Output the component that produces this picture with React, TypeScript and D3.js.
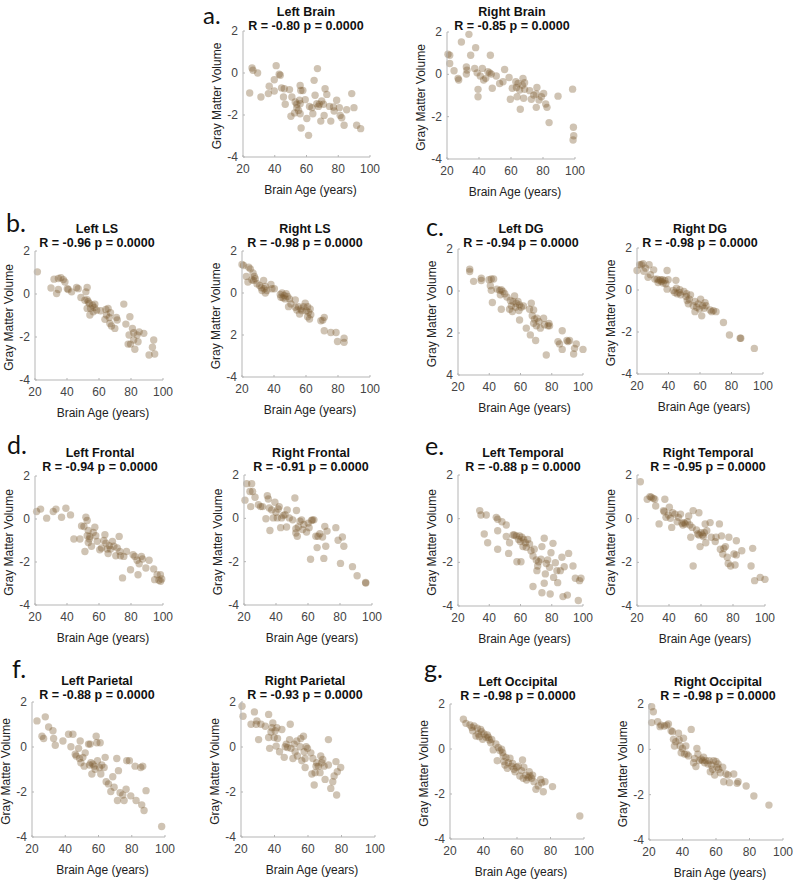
import React from 'react';
import * as d3 from 'd3';

// [brain age, gray matter volume]
const leftBrain = [
  [24.2, -0.95], [25.7, 0.24], [26.3, 0.13], [29.2, 0.0], [31.3, -1.14], [36, -0.98], [36.5, -0.63],
  [39.7, -0.32], [39.7, -0.86], [40.9, 0.35], [42.8, -0.06], [43.5, -0.11], [44.3, -0.71], [45.5, -1.14],
  [46, -0.75], [46.6, -1.49], [49.3, -0.79], [50.2, -2.06], [50.8, -1.14], [52.5, -1.9], [52.9, -1.38],
  [53.9, -1.65], [55, -1.78], [55.6, -1.3], [56, -0.59], [56.4, -0.83], [56.6, -2.62], [56, -1.94],
  [57.7, -0.83], [59.2, -1.27], [60.2, -2.17], [61.3, -2.97], [61.9, -1.59], [63.4, -1.65], [64, -1.94],
  [64.8, -0.35], [65.4, -1.06], [66.9, 0.21], [67.5, -1.59], [68.1, -1.49], [69, -2.29], [69.6, -1.33],
  [70.7, -1.49], [71.1, -2.02], [71.7, -0.75], [72.8, -1.02], [74.5, -1.59], [75.3, -2.29], [77, -1.62],
  [77.4, -1.81], [79, -1.3], [80.7, -1.65], [81.2, -2.02], [82.2, -2.13], [83.7, -2.49], [85.3, -1.75],
  [88.5, -0.98], [89.9, -1.65], [91.6, -2.49], [94.1, -2.65], [56, -1.46], [53.9, -1.49], [66.5, -1.46],
];

const rightBrain = [
  [20.6, 0.95], [21.7, 0.9], [21.7, 0.51], [24.4, 0.17], [26.9, -0.19], [27.3, -0.27], [29, 1.53],
  [32.1, 0.35], [32.5, 0.2], [32.1, 0.01], [33.7, 1.89], [34.8, 0.9], [37.9, 1.26], [37.3, 0.28],
  [38.8, 0.07], [39.4, -0.71], [39.4, -1.06], [40.8, -0.08], [42.1, 0.28], [42.9, -0.27], [44.2, -0.19],
  [45.6, 0.12], [47.1, 0.9], [46.7, 0.07], [48.3, -0.66], [47.7, 0.01], [50.8, -0.08], [52.9, -0.43],
  [55, -0.35], [56, 0.23], [58.8, -0.15], [59.6, -1.18], [60.8, -0.66], [63, -0.35], [63.4, -0.62],
  [63.8, -1.06], [64.4, -0.43], [65.4, -0.74], [65.8, -1.65], [67.1, -0.51], [67.5, -0.19], [67.9, -1.13],
  [68.5, -0.4], [68.5, -0.71], [71.7, -0.77], [72.7, -1.18], [74.2, -0.98], [75.8, -1.56], [76.2, -0.62],
  [75.8, -0.93], [77.5, -1.21], [79, -1.06], [80.4, -0.9], [81.7, -1.4], [82.5, -1.56], [83.8, -2.28],
  [89.4, -1.03], [98.5, -0.7], [99, -2.5], [99.2, -2.9], [98.8, -3.1],
];

const leftLS = [
  [21.5, 1.03], [30, 0.28], [31.9, 0.69], [33.5, 0.02], [34.6, 0.21], [34.6, 0.72], [36.2, 0.76],
  [37.7, 0.67], [38.7, 0.56], [40.2, 0.25], [40.8, 0.21], [42.9, 0.1], [46, 0.3], [47, 0.25],
  [48.7, -0.16], [51.2, -0.29], [51.8, 0.1], [52.6, 0.3], [52.6, -0.26], [53.3, -0.36], [52.6, -0.67],
  [54, -0.44], [54.3, -0.98], [54.7, -0.67], [56, -0.52], [56.4, -0.83], [57, -0.63], [57.4, -0.47],
  [58.5, -0.75], [61, -0.78], [63.7, -1.18], [64.3, -0.72], [64.7, -0.98], [65.7, -0.67], [66.4, -1.09],
  [66.8, -1.37], [67.2, -0.87], [67.8, -1.49], [69.9, -1.6], [70.9, -1.09], [71.4, -1.21], [75.5, -0.47],
  [76.8, -1.4], [78.2, -2.33], [78.8, -1.91], [79.3, -1.06], [79.7, -2.33], [80.9, -1.6], [81.7, -2.14],
  [81.7, -1.8], [82.4, -2.57], [83.8, -1.91], [84.4, -2.22], [85.1, -1.76], [88, -1.83], [91.3, -2.84],
  [93.4, -2.48], [94.2, -2.14], [94.8, -2.79],
];

const rightLS = [
  [20, 1.36], [21, 1.31], [22.7, 0.79], [23.7, 0.52], [24.2, 1.23], [25.2, 1.15], [26.2, 0.63],
  [26.9, 0.95], [27.3, 0.6], [27.7, 0.79], [28.3, 0.68], [29.4, 0.44], [31, 0.36], [32.1, 0.25],
  [32.5, 0.12], [33.5, 0.6], [33.9, 0.2], [34.6, 0.0], [34.6, 0.31], [35.6, 0.12], [38.1, 0.41],
  [38.7, 0.2], [40.2, 0.2], [43.9, -0.07], [44.3, -0.2], [45, 0.0], [45.6, -0.23], [46.4, -0.12],
  [47, -0.28], [47.6, -0.03], [48.5, -0.17], [49.1, -0.65], [49.7, -0.28], [50.6, -0.52], [53.3, -0.33],
  [53.3, -0.68], [54.3, -0.81], [55.3, -0.65], [56, -1.0], [56.8, -0.76], [57.4, -0.84], [58.5, -0.65],
  [59.5, -0.49], [60.1, -0.84], [61, -0.65], [61, -1.13], [61.6, -0.92], [62.2, -1.24], [62.6, -0.76],
  [63, -1.03], [69.3, -1.32], [70.5, -1.29], [71.4, -1.16], [71.4, -1.8], [75.5, -1.88], [78.8, -1.88],
  [79.7, -2.31], [83.8, -2.15], [83.8, -2.35],
];

const leftDG = [
  [27.5, 1.04], [27.5, 0.93], [30, 0.46], [34.9, 0.61], [34.9, 0.5], [39.8, 0.54], [40.7, 0.25],
  [41.3, 0.03], [41.3, 0.57], [42, -0.55], [42.8, 0.57], [44.9, 0.09], [46.7, 0.03], [47.1, -0.18],
  [47.7, 0.06], [47.7, -0.87], [48.8, -0.02], [49.9, -0.13], [51.3, -0.29], [53, -0.87], [53.5, -0.45],
  [54.1, -0.71], [54.8, -0.98], [55.2, -0.5], [56.2, -0.23], [56.9, -0.77], [57.3, -0.58], [58.4, -0.5],
  [59, -0.93], [59.4, -0.66], [59.4, -1.38], [60.5, -0.77], [61.9, -0.71], [63.7, -1.77], [65.8, -0.87],
  [66.3, -2.09], [66.9, -0.58], [67.5, -1.18], [68.4, -0.9], [68.4, -1.54], [69, -1.34], [69.7, -2.36],
  [70.1, -1.66], [70.5, -1.3], [71.8, -1.46], [72.7, -1.77], [74.8, -1.3], [75.4, -1.61], [76.5, -3.05],
  [77.6, -1.66], [78.2, -1.54], [78.6, -1.66], [84, -2.41], [85, -2.52], [86.7, -1.89], [86.7, -2.78],
  [89.7, -2.36], [90.4, -2.41], [91.4, -2.36], [94, -3.0], [94.6, -2.73], [95.7, -2.52], [100, -2.78],
];

const rightDG = [
  [20, 0.93], [21.7, 1.2], [22.8, 1.2], [23.8, 1.25], [24.3, 0.89], [25.5, 1.04], [27, 0.61],
  [27.7, 1.2], [28.5, 0.73], [30.6, 0.96], [31.3, 0.52], [32.8, 0.52], [33.4, 0.36], [34, 0.46],
  [34.9, 0.49], [35.5, 0.41], [36.2, 0.49], [36.6, 0.33], [37.7, 0.46], [38.3, 0.3], [39.1, 0.93],
  [39.1, 0.04], [39.8, 0.49], [43, -0.02], [44, -0.12], [44.7, 0.46], [45.1, 0.09], [45.5, -0.18],
  [46.8, -0.12], [47.2, 0.01], [47.7, -0.23], [49.8, -0.07], [51.1, -0.31], [51.5, -0.18], [51.9, -0.5],
  [52.6, -0.66], [53.2, -0.44], [54, -0.23], [55.7, -0.75], [56.8, -1.03], [56.8, -0.55], [57.9, -0.82],
  [58.9, -0.66], [59.6, -0.91], [60.4, -0.44], [61.1, -1.23], [61.7, -0.75], [62.6, -0.87], [63.2, -0.6],
  [63.8, -0.75], [66.4, -0.95], [67.4, -1.03], [68.5, -0.98], [70.2, -1.03], [74.9, -1.55], [78.7, -2.14],
  [85.5, -2.3], [85.9, -2.3], [94.5, -2.78],
];

const leftFrontal = [
  [21, 0.35], [23.5, 0.46], [27.3, 0.04], [31.4, 0.35], [33.1, 0.46], [36.6, 0.08], [39.3, 0.5],
  [42.2, 0.19], [44.3, -0.93], [48.1, -0.93], [49.1, -0.32], [50.6, -0.35], [51.2, -1.51], [51.8, 0.08],
  [52.6, -0.07], [52.6, -0.78], [53.3, -1.09], [53.3, -0.53], [54, -0.93], [54.3, -0.81], [55.3, -1.27],
  [56.4, -0.63], [57.4, -0.38], [58, -0.78], [58.9, -1.04], [60.5, -1.43], [61.6, -1.35], [63, -1.0],
  [63.7, -0.73], [64.3, -1.12], [65.1, -1.4], [65.7, -1.61], [66.4, -1.24], [67.2, -1.4], [68.4, -1.04],
  [69.3, -1.27], [70.5, -1.71], [71.4, -1.35], [72.6, -0.81], [73, -1.51], [73.4, -1.71], [74.7, -2.74],
  [75.5, -1.74], [77.2, -1.51], [79.7, -2.36], [81.3, -1.66], [82.4, -1.74], [83.8, -1.92], [84.4, -2.59],
  [85.1, -2.08], [86.5, -1.74], [87.2, -1.86], [89.3, -2.28], [91.3, -1.92], [94.2, -2.32], [94.8, -2.82],
  [96.3, -2.59], [97.5, -2.85], [98.5, -2.9], [99.2, -2.79], [98.4, -2.59],
];

const rightFrontal = [
  [20.6, 0.84], [21.7, 1.6], [23.7, 1.24], [24.8, 1.6], [25.4, 1.24], [24.2, 0.54], [26.9, 0.97],
  [29, 0.63], [30.4, 0.54], [31.6, 0.54], [33.7, -0.02], [34.6, 1.04], [35.2, 0.89], [35.8, 0.48],
  [36.2, -0.56], [37.3, 0.39], [38.3, 0.02], [39.3, 0.74], [40, 0.28], [40.8, 0.02], [41.4, 0.43],
  [42, 0.54], [42.9, -0.43], [43.5, 0.02], [44.5, 0.13], [45.6, 0.17], [46.6, -0.4], [47, 0.39],
  [48.3, 0.02], [50.4, -0.07], [51.8, 0.94], [52.4, -0.48], [52.8, 0.36], [52.4, -0.68], [53.3, -0.83],
  [53.9, -0.4], [55, -0.13], [56, -0.07], [56.6, -0.52], [57.4, -0.28], [59.1, -0.63], [60.1, -0.22],
  [60.7, -0.43], [61.6, -1.89], [62.2, -0.1], [62.8, -0.07], [63.7, -0.07], [64.9, -0.83], [65.7, -1.35],
  [66.3, -0.83], [67.4, -0.71], [69.1, -0.86], [69.9, -1.85], [70.5, -0.37], [71.1, -1.29], [71.9, -0.59],
  [77.4, -0.43], [78.8, -1.01], [80.3, -2.08], [81.5, -0.86], [82.4, -1.29], [87.8, -2.23], [90.7, -2.65],
  [96.1, -2.99], [96, -2.96],
];

const leftTemporal = [
  [33.9, 0.37], [34.7, 0.17], [38.1, 0.17], [36.8, -0.7], [39, -1.1], [44.5, 0.06], [45.4, -0.03],
  [45.4, -0.55], [45.4, -1.4], [48.1, -0.14], [50.9, -0.29], [50.9, -0.82], [52.4, -1.59], [53, -1.1],
  [55.2, -0.75], [56, -0.75], [57.3, -0.79], [57.7, -1.97], [58.8, -0.95], [59.4, -0.79], [59.9, -1.05],
  [60.3, -1.97], [60.9, -0.85], [61.6, -1.28], [62, -0.95], [63.1, -1.1], [63.7, -1.31], [64.6, -0.95],
  [65.8, -1.16], [66.7, -1.47], [68, -1.71], [68.8, -1.4], [70.1, -1.89], [70.5, -2.38], [71, -2.17],
  [71.6, -1.97], [73.1, -1.86], [73.7, -1.28], [75.2, -0.9], [75.9, -2.53], [76.5, -2.05], [77.4, -1.89],
  [78.6, -2.23], [79.5, -1.56], [80.8, -1.13], [81.2, -2.69], [82.3, -2.02], [83.3, -2.38], [83.8, -2.93],
  [85.5, -2.38], [86.5, -1.77], [87.2, -3.57], [88, -2.2], [90.8, -1.59], [93.6, -2.17], [95.1, -2.73],
  [97.8, -2.84], [98.7, -2.73], [68, -3.11], [73.7, -3.39], [79, -3.45], [75.2, -2.96], [90, -3.5],
  [97, -3.75],
];

const rightTemporal = [
  [22.1, 1.69], [26.4, 0.89], [28.1, 1.01], [28.9, 0.98], [30.2, 0.93], [31.1, 0.89], [31.7, 0.58],
  [33.8, -0.24], [36.6, 0.37], [37, 0.32], [37.4, 0.89], [38.1, 0.06], [39.6, 0.17], [40.2, 0.52],
  [40.9, 0.02], [41.7, -0.4], [42.3, 0.27], [43.8, 0.21], [45.1, -0.14], [45.9, 0.06], [47.2, 0.21],
  [48.1, -0.21], [48.7, -0.29], [49.4, -0.18], [50.2, -0.24], [51.5, -0.14], [52.3, 0.12], [53, -0.29],
  [53.6, -0.85], [54.5, -0.4], [55.1, 0.37], [55.1, -2.17], [57.2, -0.52], [57.9, -0.7], [58.7, 0.27],
  [58.7, -0.75], [59.4, -1.28], [60, -0.64], [60.9, -0.75], [61.5, -0.82], [62.1, -0.64], [62.6, -0.24],
  [63, -1.1], [63.6, -0.55], [65.7, -0.18], [66.4, -0.85], [68.9, -1.05], [69.4, -0.85], [71.5, -0.24],
  [72.1, -1.4], [72.8, -0.79], [73.6, -1.62], [74.3, -1.36], [75.3, -1.28], [76.4, -1.77], [77, -2.05],
  [77.4, -0.85], [78.5, -2.17], [80.6, -1.62], [81.3, -2.12], [82.1, -1.66], [82.1, -1.01], [85.5, -1.47],
  [91.3, -2.17], [92.3, -1.36], [93.5, -2.84], [97, -2.69], [100, -2.78],
];

const leftParietal = [
  [23, 1.16], [26, 0.48], [27, 0.38], [28, 1.34], [30, 0.89], [32.6, 0.72], [33, 0.38], [34, 0.08],
  [38.6, 0.27], [42, 0.57], [43.4, 0.01], [44.6, 0.57], [46, -0.32], [46.6, -0.4], [48, -0.06],
  [48.6, -0.51], [49, 0.27], [49.4, -0.7], [50.6, -0.46], [51.4, -0.85], [52, -0.26], [54, 0.13],
  [54.6, -0.8], [55, 0.13], [55.4, -0.7], [56, -1.2], [56.6, -0.76], [57.4, -0.85], [58, -0.99],
  [58.6, 0.48], [59, 0.19], [59.4, -0.61], [60.6, -0.91], [61, 0.19], [61.4, -1.2], [62, -0.8],
  [63.4, -0.91], [64, -0.46], [64.6, -1.54], [66, -1.64], [67.4, -1.98], [68.6, -1.32], [69.4, -1.79],
  [71, -0.51], [71.4, -2.38], [72, -1.05], [73, -2.03], [74.6, -2.13], [75.4, -2.38], [76.6, -1.88],
  [77, -0.61], [78.6, -0.61], [79.4, -2.17], [82, -0.85], [82.6, -2.38], [85.4, -0.91], [86, -2.57],
  [86.6, -0.85], [87.4, -2.82], [88.6, -1.94], [98, -3.53],
];

const rightParietal = [
  [20.6, 1.81], [21.2, 1.37], [26, 1.01], [28, 1.56], [29.1, 1.01], [29.5, 1.16], [30.5, 0.33],
  [31.9, 1.01], [34.5, 0.92], [36.5, 1.45], [36.5, 0.42], [37.1, -0.06], [37.9, 0.67], [38.5, 0.86],
  [39, 1.07], [39.8, 0.42], [40.4, 0.72], [41, 0.04], [41.4, 0.86], [41.8, 0.38], [43, -0.21],
  [44.4, 0.78], [45.8, -0.46], [46.4, 0.01], [47, 0.13], [47.8, -0.02], [49, 0.33], [49.4, 1.01],
  [49.8, -0.06], [51, -0.51], [51.7, 0.13], [52.3, -0.21], [53.3, 0.27], [53.7, -0.4], [55.3, 0.01],
  [55.7, 0.38], [56.3, -0.61], [57.3, 0.48], [57.7, -0.21], [58.3, -0.51], [58.3, -0.91], [58.9, 0.01],
  [59.7, -0.06], [61.7, -0.26], [62.3, -1.2], [62.9, -0.51], [63.7, -1.69], [64.2, -1.14], [64.8, -0.85],
  [65.2, -0.7], [66.2, -0.85], [67.2, -1.14], [67.6, -0.4], [68.2, -0.7], [68.8, -0.55], [69.6, -0.85],
  [70.2, -1.44], [72.2, 0.33], [72.2, -0.8], [73.6, -1.84], [74.8, -1.54], [75.6, -1.29], [76.7, -0.65],
  [77.1, -2.13], [77.5, -1.1], [79.5, -0.91],
];

const leftOccipital = [
  [28, 1.32], [29.5, 1.14], [31.9, 1.07], [33, 0.96], [33.5, 0.81], [34.3, 1.02], [35.5, 0.58],
  [36.3, 0.92], [36.9, 0.67], [37.5, 0.55], [38.3, 0.87], [38.9, 0.77], [39.5, 0.43], [40.3, 0.67],
  [41.5, 0.52], [42.3, 0.62], [42.9, 0.52], [43.5, 0.4], [44.3, 0.28], [44.9, 0.43], [45.8, -0.04],
  [47.4, 0.22], [48.8, 0.07], [49.8, -0.07], [50.8, -0.01], [51.4, -0.16], [51.8, -0.31], [52.2, -0.56],
  [52.8, -0.71], [53.4, -0.37], [54.8, -0.61], [55.8, -0.41], [56.8, -0.76], [57.4, -0.64], [58.2, -0.9],
  [58.8, -1.01], [59.8, -0.81], [60.8, -0.76], [61.7, -1.2], [62.7, -0.96], [63.3, -0.49], [63.7, -1.3],
  [64.1, -0.81], [65.3, -1.16], [65.7, -1.38], [66.7, -1.27], [67.3, -1.01], [67.7, -1.2], [68.7, -1.3],
  [69.3, -1.16], [70.1, -1.45], [71.3, -1.79], [72.7, -1.64], [74.1, -1.35], [74.7, -1.5], [75.7, -1.9],
  [76.7, -1.45], [81.2, -1.67], [97.5, -2.98], [48.2, -0.52], [54.2, -0.86],
];

const rightOccipital = [
  [21.6, 1.88], [22.6, 1.66], [21.6, 1.18], [25.2, 1.22], [26.6, 1.0], [27.2, 1.07], [29.2, 1.03],
  [30.6, 1.07], [31.6, 1.12], [33.2, 0.82], [34, 0.78], [34.6, 0.44], [35.2, 0.15], [36, 0.34],
  [37.6, 0.71], [38, 0.41], [38.6, 0.15], [39.2, -0.15], [40, 0.04], [40.6, 0.49], [41.2, -0.21],
  [42, 0.15], [42.6, -0.21], [43.6, -0.29], [45.2, 0.88], [46.6, -0.59], [47.2, -0.4], [48, -0.76],
  [48.6, 0.04], [49.2, -0.21], [50, -0.5], [51.2, -0.44], [52, -0.5], [52.6, -0.35], [53.2, -0.59],
  [54, -0.5], [55.2, -0.65], [56, -0.5], [56.6, -0.99], [57.2, -0.69], [58, -0.88], [58.6, -0.5],
  [59.2, -1.13], [60, -0.54], [60.6, -0.79], [61.2, -0.65], [61.6, -0.88], [62.6, -1.03], [64, -0.79],
  [64.6, -1.43], [66, -1.09], [67.2, -1.13], [68, -1.47], [70.6, -1.09], [72.6, -1.5], [73.2, -1.43],
  [78, -1.62], [82.6, -2.06], [91.6, -2.46],
];

const xTicks = [20, 40, 60, 80, 100];
const yTicks = [2, 0, -2, -4];
const yTickText = ['2', '0', '-2', '-4'];
const yTickTextRightLS = ['2', '0', '2', '-4'];
const yTickTextLeftDG = ['2', '0', '2', '4'];

const titles = [
  'Left Brain', 'Right Brain', 'Left LS', 'Right LS', 'Left DG', 'Right DG', 'Left Frontal',
  'Right Frontal', 'Left Temporal', 'Right Temporal', 'Left Parietal', 'Right Parietal',
  'Left Occipital', 'Right Occipital',
];
const rValues = ['-0.80', '-0.85', '-0.96', '-0.98', '-0.94', '-0.98', '-0.94', '-0.91', '-0.88',
  '-0.95', '-0.88', '-0.93', '-0.98', '-0.98'];
const letters = ['a.', 'b.', 'c.', 'd.', 'e.', 'f.', 'g.'];

const datasets = [leftBrain, rightBrain, leftLS, rightLS, leftDG, rightDG, leftFrontal, rightFrontal,
  leftTemporal, rightTemporal, leftParietal, rightParietal, leftOccipital, rightOccipital];

// layout: [x left, x right, y top, y bottom, title center]
const boxes = [
  [243, 370, 31, 157, 306], [447, 575, 32, 159, 512],
  [35, 163, 251, 380, 97], [242, 370, 251, 377, 305],
  [458, 583, 249, 375, 521], [637, 763, 248, 374, 700],
  [35, 163, 476, 605, 100], [244, 372, 475, 605, 311],
  [458, 583, 475, 606, 523], [637, 765, 475, 606, 708],
  [32, 165, 702, 837, 97], [241, 375, 702, 837, 305],
  [450, 584, 704, 839, 518], [649, 783, 704, 840, 718],
];
const titleY = [12, 12, 229, 229, 229, 229, 453, 453, 453, 453, 681, 681, 682, 682];
const letterPos = [[203, 24], [6, 232], [426, 236], [7, 454], [425, 455], [12, 678], [424, 678]];

const font = '"Liberation Sans", Arial, sans-serif';
const dotColor = '#7a5a2c';
const axisColor = '#b5b5b5';

function Panel({ i }: { i: number }) {
  const [x0, x1, y0, y1, tc] = boxes[i];
  const x = d3.scaleLinear().domain([20, 100]).range([x0, x1]);
  const y = d3.scaleLinear().domain([-4, 2]).range([y1, y0]);
  const labels = i === 3 ? yTickTextRightLS : i === 4 ? yTickTextLeftDG : yTickText;
  const ty = titleY[i];
  return (
    <g>
      <text x={tc} y={ty + 4} textAnchor="middle" fontFamily={font} fontWeight="bold" fontSize={12.5} fill="#111">
        {titles[i]}
      </text>
      <text x={tc} y={ty + 18} textAnchor="middle" fontFamily={font} fontWeight="bold" fontSize={12.5} fill="#111">
        {`R = ${rValues[i]} p = 0.0000`}
      </text>
      {datasets[i].map((d, k) => (
        <circle key={k} cx={x(d[0])} cy={y(d[1])} r={3.7} fill={dotColor} fillOpacity={0.36} />
      ))}
      <line x1={x0} x2={x0} y1={y0} y2={y1} stroke={axisColor} />
      <line x1={x0} x2={x1} y1={y1} y2={y1} stroke={axisColor} />
      {xTicks.map((t) => (
        <g key={'x' + t}>
          <line x1={x(t)} x2={x(t)} y1={y1} y2={y1 - 2} stroke={axisColor} />
          <text x={x(t)} y={y1 + 16} textAnchor="middle" fontFamily={font} fontSize={12} fill="#444">{t}</text>
        </g>
      ))}
      {yTicks.map((t, k) => (
        <g key={'y' + t}>
          <line x1={x0} x2={x0 + 2} y1={y(t)} y2={y(t)} stroke={axisColor} />
          <text x={x0 - 5} y={y(t) + 4} textAnchor="end" fontFamily={font} fontSize={12} fill="#444">{labels[k]}</text>
        </g>
      ))}
      <text x={(x0 + x1) / 2 + 4} y={y1 + 37} textAnchor="middle" fontFamily={font} fontSize={12} fill="#222">
        Brain Age (years)
      </text>
      <text transform={`translate(${x0 - 22},${(y0 + y1) / 2 + 2}) rotate(-90)`} textAnchor="middle"
        fontFamily={font} fontSize={12} fill="#222">
        Gray Matter Volume
      </text>
    </g>
  );
}

export default function App() {
  return (
    <div style={{ position: 'absolute', left: 0, top: 0 }}>
      <svg width={800} height={880} style={{ display: 'block', background: '#fff' }}>
        {letters.map((l, k) => (
          <text key={l} x={letterPos[k][0]} y={letterPos[k][1]} fontFamily='Lato, "Noto Sans", sans-serif'
            fontWeight={400} fontSize={k === 0 ? 24 : 25} fill="#111">{l}</text>
        ))}
        {titles.map((_, i) => <Panel key={i} i={i} />)}
      </svg>
    </div>
  );
}
